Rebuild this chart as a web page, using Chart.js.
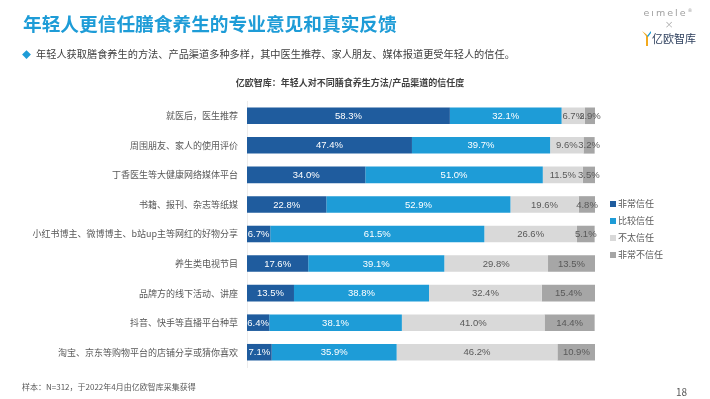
<!DOCTYPE html>
<html>
<head>
<meta charset="utf-8">
<script src="https://cdn.jsdelivr.net/npm/chart.js@4.4.1/dist/chart.umd.min.js"></script>
<style>
  html, body { margin: 0; padding: 0; background: #fff; }
  body { width: 710px; height: 399px; position: relative; overflow: hidden; font-family: "Noto Sans CJK SC", "Noto Sans", sans-serif; }
  #chart { position: absolute; left: 0; top: 0; }
  .title { position: absolute; left: 23px; top: 11px; font-size: 18.7px; line-height: 24px; font-weight: bold; color: #1e9cd7; }
  .sub { position: absolute; left: 22px; top: 46px; font-size: 10.2px; line-height: 16px; color: #404040; }
  .sub .dot { color: #1e9cd7; font-size: 9px; margin-right: 5px; }
  .ctitle { position: absolute; left: 0; width: 700px; top: 76px; text-align: center; font-size: 9px; line-height: 14px; font-weight: bold; color: #404040; }
  .logo { position: absolute; left: 636px; top: 4px; width: 66px; text-align: center; color: #a0a0a0; }
  .logo .em { font-family: "DejaVu Sans", sans-serif; font-size: 9.5px; letter-spacing: 2px; line-height: 13px; }
  .logo .x { font-size: 11px; line-height: 11px; font-family: "DejaVu Sans", sans-serif; font-weight: 200; }
  .logo .yi { font-size: 11px; line-height: 16px; color: #2c3e5c; text-align: left; padding-left: 6px; }
  .logo svg { vertical-align: -3px; margin-right: 1px; }
  #legend { position: absolute; left: 610px; top: 198px; font-size: 9px; color: #595959; }
  #legend div { height: 17px; line-height: 12px; white-space: nowrap; }
  #legend span.box { display: inline-block; width: 6px; height: 6px; margin-right: 2px; vertical-align: 0px; }
  .foot { position: absolute; left: 22px; top: 381px; font-size: 8px; line-height: 12px; color: #595959; }
  .page { position: absolute; left: 676px; top: 385px; font-size: 10px; line-height: 14px; color: #595959; }
</style>
</head>
<body>
<canvas id="chart" width="710" height="399"></canvas>
<div class="title">年轻人更信任膳食养生的专业意见和真实反馈</div>
<div class="sub"><span class="dot">◆</span>年轻人获取膳食养生的方法、产品渠道多种多样，其中医生推荐、家人朋友、媒体报道更受年轻人的信任。</div>
<div class="ctitle">亿欧智库：年轻人对不同膳食养生方法/产品渠道的信任度</div>
<div class="logo">
  <div class="em">eımele<sup style="font-size:5px">®</sup></div>
  <div class="x">×</div>
  <div class="yi"><svg width="9" height="15" viewBox="0 0 9 15"><path d="M0 0 L4 5 L4 15 L6 15 L6 5 L4 3 Z" fill="#f2a91d"/><path d="M9 0 L5 5 L6 6 L9 2 Z" fill="#1e9cd7"/></svg>亿欧智库</div>
</div>
<div id="legend"></div>
<div class="foot">样本：N=312，于2022年4月由亿欧智库采集获得</div>
<div class="page">18</div>
<script>
// 信任度 stacked bars
const categories = [
  '就医后，医生推荐',
  '周围朋友、家人的使用评价',
  '丁香医生等大健康网络媒体平台',
  '书籍、报刊、杂志等纸媒',
  '小红书博主、微博博主、b站up主等网红的好物分享',
  '养生类电视节目',
  '品牌方的线下活动、讲座',
  '抖音、快手等直播平台种草',
  '淘宝、京东等购物平台的店铺分享或猜你喜欢'
];
const seriesNames = ['非常信任', '比较信任', '不太信任', '非常不信任'];
const veryTrust = [58.3, 47.4, 34.0, 22.8, 6.7, 17.6, 13.5, 6.4, 7.1];
const fairlyTrust = [32.1, 39.7, 51.0, 52.9, 61.5, 39.1, 38.8, 38.1, 35.9];
const littleTrust = [6.7, 9.6, 11.5, 19.6, 26.6, 29.8, 32.4, 41.0, 46.2];
const noTrust = [2.9, 3.2, 3.5, 4.8, 5.1, 13.5, 15.4, 14.4, 10.9];

const colors = ['#1f5c9e', '#1e9cd7', '#d9d9d9', '#a6a6a6'];
const labelColors = ['#ffffff', '#ffffff', '#595959', '#595959'];

const valueLabels = {
  id: 'valueLabels',
  afterDatasetsDraw(chart) {
    const ctx = chart.ctx;
    ctx.save();
    ctx.font = '9.5px "Liberation Sans", "Noto Sans", sans-serif';
    ctx.textAlign = 'center';
    ctx.textBaseline = 'middle';
    chart.data.datasets.forEach((ds, di) => {
      chart.getDatasetMeta(di).data.forEach((bar, i) => {
        const cx = (bar.x + bar.base) / 2;
        ctx.fillStyle = labelColors[di];
        ctx.fillText(ds.data[i].toFixed(1) + '%', cx, bar.y + 0.5);
      });
    });
    ctx.restore();
  }
};

const chart = new Chart(document.getElementById('chart'), {
  type: 'bar',
  data: {
    labels: categories,
    datasets: [veryTrust, fairlyTrust, littleTrust, noTrust].map((d, i) => ({
      label: seriesNames[i], data: d, backgroundColor: colors[i],
      categoryPercentage: 1, barPercentage: 0.56
    }))
  },
  options: {
    indexAxis: 'y',
    responsive: false,
    animation: false,
    layout: { padding: { top: 101, bottom: 32, left: 0, right: 115 } },
    plugins: { legend: { display: false }, tooltip: { enabled: false } },
    scales: {
      x: { stacked: true, display: false, min: 0, max: 100 },
      y: {
        stacked: true,
        grid: { display: false, drawTicks: false },
        border: { display: true, color: '#ececec' },
        ticks: { color: '#595959', padding: 9, font: { size: 9, family: '"Noto Sans CJK SC", sans-serif' } },
        afterFit(scale) { scale.width = 247; }
      }
    }
  },
  plugins: [valueLabels]
});

document.getElementById('legend').innerHTML = chart.data.datasets.map(ds =>
  `<div><span class="box" style="background:${ds.backgroundColor}"></span>${ds.label}</div>`).join('');
</script>
</body>
</html>
